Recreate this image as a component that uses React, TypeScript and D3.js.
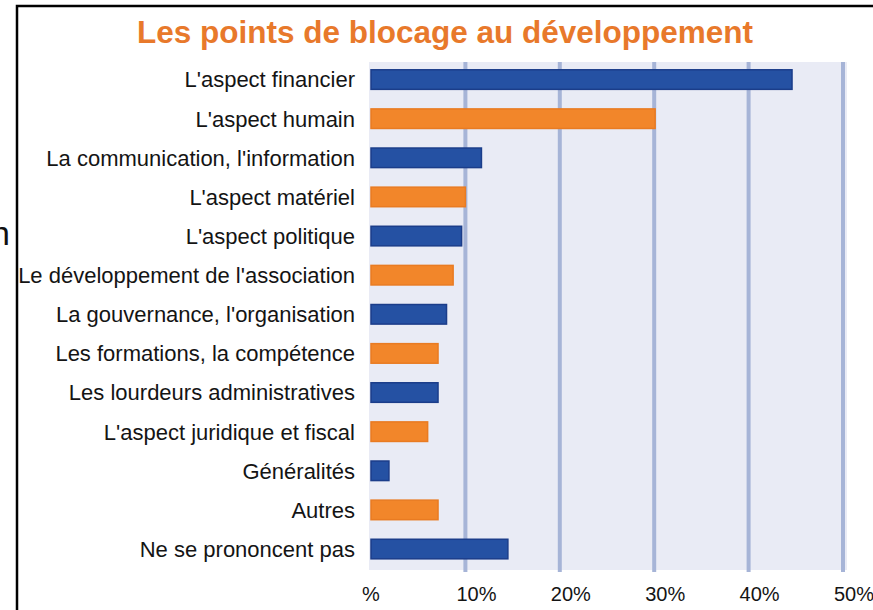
import * as d3 from 'd3'
import { useEffect, useRef } from 'react'

const categories = [
  "L'aspect financier",
  "L'aspect humain",
  "La communication, l'information",
  "L'aspect matériel",
  "L'aspect politique",
  "Le développement de l'association",
  "La gouvernance, l'organisation",
  'Les formations, la compétence',
  'Les lourdeurs administratives',
  "L'aspect juridique et fiscal",
  'Généralités',
  'Autres',
  'Ne se prononcent pas',
]
const values = [44.6, 30.1, 11.7, 10.0, 9.6, 8.7, 8.0, 7.1, 7.1, 6.0, 1.9, 7.1, 14.5]
const tickValues = [0, 10, 20, 30, 40, 50]
const tickLabels = ['%', '10%', '20%', '30%', '40%', '50%']
const title = 'Les points de blocage au développement'

const BLUE = '#2551a3'
const BLUE_EDGE = '#1b3d8a'
const ORANGE = '#f2862a'
const ORANGE_EDGE = '#e97b22'

const App = () => {
  const ref = useRef<SVGSVGElement>(null)

  useEffect(() => {
    const width = 873
    const height = 610
    const svg = d3.select(ref.current)
    svg.selectAll('*').remove()
    svg.attr('width', width).attr('height', height)

    const font = '"Liberation Sans", Arial, sans-serif'

    // frame (cut by the picture on the right and bottom)
    svg
      .append('rect')
      .attr('x', 17)
      .attr('y', 6)
      .attr('width', 1000)
      .attr('height', 1000)
      .attr('fill', 'white')
      .attr('stroke', 'black')
      .attr('stroke-width', 2.5)

    // stray letter left of the frame
    svg
      .append('text')
      .attr('x', -9)
      .attr('y', 245)
      .attr('font-family', font)
      .attr('font-size', 34)
      .attr('fill', '#111')
      .text('n')

    const x = d3.scaleLinear().domain([0, 50]).range([371, 843])
    const y = d3
      .scaleBand()
      .domain(categories)
      .range([60, 568.6])
      .paddingInner(0.5)
      .paddingOuter(0.25)

    // plot background
    svg
      .append('rect')
      .attr('x', 369)
      .attr('y', 62)
      .attr('width', 478)
      .attr('height', 508)
      .attr('fill', '#e9ebf5')

    // grid lines
    svg
      .append('g')
      .selectAll('line')
      .data(tickValues.filter((d) => d > 0))
      .enter()
      .append('line')
      .attr('x1', (d) => x(d))
      .attr('x2', (d) => x(d))
      .attr('y1', 62)
      .attr('y2', 572)
      .attr('stroke', '#a6b4d7')
      .attr('stroke-width', 4)

    // bars
    svg
      .append('g')
      .selectAll('rect')
      .data(values)
      .enter()
      .append('rect')
      .attr('x', x(0))
      .attr('y', (d, i) => y(categories[i]) as number)
      .attr('width', (d) => x(d) - x(0))
      .attr('height', y.bandwidth())
      .attr('fill', (d, i) => (i % 2 === 0 ? BLUE : ORANGE))
      .attr('stroke', (d, i) => (i % 2 === 0 ? BLUE_EDGE : ORANGE_EDGE))
      .attr('stroke-width', 1.5)

    // category labels
    svg
      .append('g')
      .selectAll('text')
      .data(categories)
      .enter()
      .append('text')
      .attr('x', 355)
      .attr('y', (d) => (y(d) as number) + y.bandwidth() / 2)
      .attr('dy', '0.36em')
      .attr('text-anchor', 'end')
      .attr('font-family', font)
      .attr('font-size', 22)
      .attr('fill', '#141414')
      .text((d) => d)

    // x tick labels
    svg
      .append('g')
      .selectAll('text')
      .data(tickValues)
      .enter()
      .append('text')
      .attr('x', (d) => x(d) - 9)
      .attr('y', 601)
      .attr('font-family', font)
      .attr('font-size', 20)
      .attr('fill', '#141414')
      .text((d, i) => tickLabels[i])

    // title
    svg
      .append('text')
      .attr('x', 445)
      .attr('y', 43)
      .attr('text-anchor', 'middle')
      .attr('font-family', font)
      .attr('font-weight', 'bold')
      .attr('font-size', 31.5)
      .attr('fill', '#e8792b')
      .text(title)
  }, [])

  return (
    <div style={{ position: 'absolute', left: 0, top: 0 }}>
      <svg ref={ref}></svg>
    </div>
  )
}

export default App
